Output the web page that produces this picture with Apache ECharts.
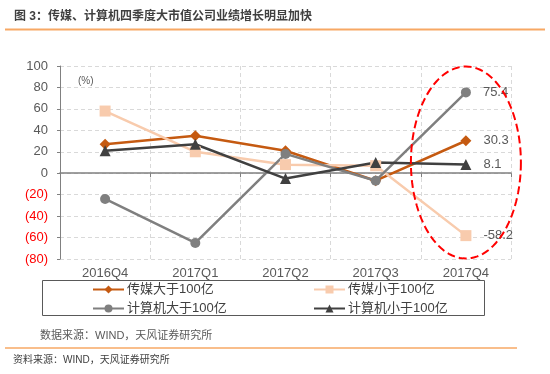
<!DOCTYPE html>
<html>
<head>
<meta charset="utf-8">
<script src="https://cdn.jsdelivr.net/npm/echarts@6/dist/echarts.min.js"></script>
<style>html,body{margin:0;padding:0;background:#fff}#c{width:550px;height:374px}</style>
</head>
<body>
<div id="c"></div>
<script>
var categories = ['2016Q4', '2017Q1', '2017Q2', '2017Q3', '2017Q4'];
var seriesNames = ['传媒大于100亿', '传媒小于100亿', '计算机大于100亿', '计算机小于100亿'];
var mediaLarge = [27, 35, 21, -7, 30.3];
var mediaSmall = [58, 20, 8, 7, -58.2];
var compLarge = [-24, -65, 18, -7, 75.4];
var compSmall = [21, 27, -5, 10, 8.1];
var yTicks = { min: -80, max: 100, interval: 20 };
var titleText = '图 3：传媒、计算机四季度大市值公司业绩增长明显加快';
var noteText = '数据来源：WIND，天风证券研究所';
var sourceText = '资料来源：WIND，天风证券研究所';
var unitText = '(%)';

var FONT = '"Liberation Sans", Arial, "Noto Sans CJK SC", sans-serif';
var chart = echarts.init(document.getElementById('c'), null, { renderer: 'canvas' });

function mkSeries(name, data, color, symbol, size) {
  return {
    name: name, type: 'line', data: data,
    symbol: symbol, symbolSize: size,
    itemStyle: { color: color },
    lineStyle: { color: color, width: 2.5 },
    z: 3,
    label: {
      show: true, position: 'right', distance: 12,
      color: '#595959', fontSize: 13, fontFamily: FONT,
      formatter: function (p) { return p.dataIndex === data.length - 1 ? String(p.value) : ''; }
    }
  };
}

function mkLegend(name, left, top) {
  return {
    left: left, top: top, itemWidth: 31, itemHeight: 10, itemGap: 5, padding: 0,
    data: [name],
    textStyle: { fontSize: 13, color: '#404040', fontFamily: FONT, padding: [0, 0, 0, -2] }
  };
}

var option = {
  animation: false,
  backgroundColor: '#fff',
  grid: { left: 60, right: 39, top: 66, bottom: 115 },
  xAxis: [{
    type: 'category', data: categories, boundaryGap: true,
    axisLine: { onZero: true, lineStyle: { color: '#808080', width: 1.5 } },
    axisTick: { show: true, length: 4, lineStyle: { color: '#808080' } },
    axisLabel: { show: false },
    splitLine: { show: true, lineStyle: { color: '#D9D9D9', type: [4, 3] } }
  }, {
    type: 'category', data: categories, boundaryGap: true, position: 'bottom',
    axisLine: { show: false, onZero: false },
    axisTick: { show: false },
    axisLabel: { color: '#595959', fontSize: 13, fontFamily: FONT, margin: 8 },
    splitLine: { show: false }
  }],
  yAxis: {
    type: 'value', min: yTicks.min, max: yTicks.max, interval: yTicks.interval,
    axisLine: { show: true, lineStyle: { color: '#808080', width: 1 } },
    axisTick: { show: true, length: 3, lineStyle: { color: '#808080' } },
    axisLabel: {
      fontSize: 13, fontFamily: FONT, margin: 12,
      formatter: function (v) { return v < 0 ? '{n|(' + Math.abs(v) + ')}' : '{p|' + v + '}'; },
      rich: {
        n: { color: '#FF0000', fontSize: 13, fontFamily: FONT },
        p: { color: '#595959', fontSize: 13, fontFamily: FONT }
      }
    },
    splitLine: { show: true, lineStyle: { color: '#D9D9D9', type: [4, 3] } }
  },
  legend: [
    mkLegend(seriesNames[0], 92, 283),
    mkLegend(seriesNames[1], 313, 283),
    mkLegend(seriesNames[2], 92, 302),
    mkLegend(seriesNames[3], 313, 302)
  ],
  series: [
    mkSeries(seriesNames[0], mediaLarge, '#C55A11', 'diamond', 11),
    mkSeries(seriesNames[1], mediaSmall, '#F8CBAD', 'rect', 11),
    mkSeries(seriesNames[2], compLarge, '#7F7F7F', 'circle', 10),
    mkSeries(seriesNames[3], compSmall, '#404040', 'triangle', 11)
  ]
};
chart.setOption(option);

// annotation ellipse around the last category
var c = chart.convertToPixel({ xAxisIndex: 0, yAxisIndex: 0 }, [categories[4], 10]);
var rx = 55, ry = 96, pts = [];
for (var i = 0; i <= 120; i++) {
  var a = i / 120 * Math.PI * 2;
  pts.push([c[0] + rx * Math.cos(a), c[1] + ry * Math.sin(a)]);
}

chart.setOption({
  graphic: [
    { type: 'text', left: 14, top: 11, style: { text: titleText, font: 'bold 12px ' + FONT, fill: '#404040' } },
    { type: 'line', shape: { x1: 5, y1: 29.5, x2: 545, y2: 29.5 }, style: { stroke: '#F7A864', lineWidth: 2 } },
    { type: 'text', left: 78, top: 76, style: { text: unitText, font: '10px ' + FONT, fill: '#595959' } },
    { type: 'rect', shape: { x: 42.5, y: 280.5, width: 442, height: 35 }, style: { fill: 'none', stroke: '#595959', lineWidth: 1 }, z: -1 },
    { type: 'text', left: 40, top: 330, style: { text: noteText, font: '11px ' + FONT, fill: '#595959' } },
    { type: 'line', shape: { x1: 5, y1: 348, x2: 517, y2: 348 }, style: { stroke: '#F7A864', lineWidth: 1.5 } },
    { type: 'text', left: 13, top: 355, style: { text: sourceText, font: '10px ' + FONT, fill: '#404040' } },
    { type: 'polyline', shape: { points: pts }, style: { fill: 'none', stroke: '#FF0000', lineWidth: 2, lineDash: [8, 4] }, z: 10 }
  ]
});
</script>
</body>
</html>
